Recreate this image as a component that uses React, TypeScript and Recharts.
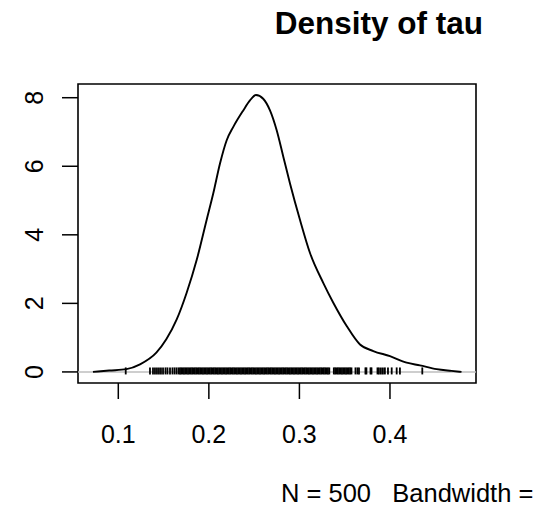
import {
  ComposedChart,
  Line,
  ReferenceArea,
  ReferenceLine,
  Scatter,
  XAxis,
  YAxis,
} from 'recharts';

// Density estimate (x = tau, y = density)
const tauGrid = [
  0.072, 0.09, 0.109, 0.124, 0.142, 0.153, 0.1645, 0.1755, 0.1866, 0.1976, 0.2049, 0.2123,
  0.2197, 0.227, 0.238, 0.2454, 0.252, 0.26, 0.2675, 0.2749, 0.2822, 0.2896, 0.3006, 0.3117,
  0.3263, 0.3374, 0.3522, 0.3669, 0.3816, 0.4, 0.4184, 0.4331, 0.4516, 0.468, 0.479,
];
const densityValues = [
  0, 0.04, 0.08, 0.22, 0.56, 0.95, 1.53, 2.31, 3.27, 4.44, 5.21, 6.08, 6.76, 7.15, 7.63, 7.92,
  8.08, 7.97, 7.63, 7.05, 6.28, 5.5, 4.44, 3.47, 2.6, 2.02, 1.34, 0.8, 0.61, 0.46, 0.27, 0.19,
  0.08, 0.03, 0,
];

// Rug marks (sample values of tau)
const rugValues = [
  0.1082, 0.135, 0.1383, 0.1405, 0.1427, 0.1449, 0.1471, 0.1494, 0.1521, 0.1543, 0.1571,
  0.1598, 0.1621, 0.1643, 0.1665, 0.1681,
  0.1695, 0.171, 0.1725, 0.174, 0.1755, 0.177, 0.1785, 0.18, 0.1815, 0.183, 0.1845, 0.186,
  0.1875, 0.189, 0.1905, 0.192, 0.1935, 0.195, 0.1965, 0.198, 0.1995, 0.201, 0.2025, 0.204,
  0.2055, 0.207, 0.2085, 0.21, 0.2115, 0.213, 0.2145, 0.216, 0.2175, 0.219, 0.2205, 0.222,
  0.2235, 0.225, 0.2265, 0.228, 0.2295, 0.231, 0.2325, 0.234, 0.2355, 0.237, 0.2385, 0.24,
  0.2415, 0.243, 0.2445, 0.246, 0.2475, 0.249, 0.2505, 0.252, 0.2535, 0.255, 0.2565, 0.258,
  0.2595, 0.261, 0.2625, 0.264, 0.2655, 0.267, 0.2685, 0.27, 0.2715, 0.273, 0.2745, 0.276,
  0.2775, 0.279, 0.2805, 0.282, 0.2835, 0.285, 0.2865, 0.288, 0.2895, 0.291, 0.2925, 0.294,
  0.2955, 0.297, 0.2985, 0.3, 0.3015, 0.303, 0.3045, 0.306, 0.3075, 0.309, 0.3105, 0.312,
  0.3135, 0.315, 0.3165, 0.318, 0.3195, 0.321, 0.3225, 0.324, 0.3255, 0.327, 0.3285, 0.33,
  0.3315, 0.333,
  0.338, 0.3395, 0.341, 0.3425, 0.344, 0.3455, 0.347, 0.3485, 0.35, 0.3515, 0.353, 0.3545,
  0.356, 0.3575, 0.3619, 0.3641, 0.3658, 0.3729, 0.374, 0.3785, 0.3796, 0.3862, 0.3878,
  0.39, 0.3922, 0.3944, 0.3978, 0.4019, 0.4074, 0.411, 0.4357,
];

const xTicks = [0.1, 0.2, 0.3, 0.4];
const yTicks = [0, 2, 4, 6, 8];
const X_DOMAIN: [number, number] = [0.0555, 0.495];
const Y_DOMAIN: [number, number] = [-0.323, 8.4];

const title = 'Density of tau';
const subtitle = 'N = 500   Bandwidth =';

const FONT = '"Liberation Sans", Arial, Helvetica, sans-serif';

const densityData = tauGrid.map((x, i) => ({ x, d: densityValues[i] }));
const rugData = rugValues.map((x) => ({ x, r: 0 }));

function XTick({ x, y, payload }: any) {
  return (
    <text x={x} y={y} dy="0.72em" textAnchor="middle" fontSize={25} fontFamily={FONT} fill="#000">
      {String(payload.value)}
    </text>
  );
}

function YTick({ x, y, payload }: any) {
  return (
    <text
      x={x}
      y={y}
      transform={`rotate(-90 ${x} ${y})`}
      textAnchor="middle"
      fontSize={25}
      fontFamily={FONT}
      fill="#000"
    >
      {String(payload.value)}
    </text>
  );
}

function RugMark({ cx, cy }: any) {
  return <line x1={cx} x2={cx} y1={cy - 4.5} y2={cy + 2.5} stroke="#000" strokeWidth={1.8} />;
}

export default function App() {
  return (
    <div style={{ position: 'absolute', left: 0, top: 0, width: 537, height: 508, background: '#fff' }}>
      <ComposedChart
        width={537}
        height={508}
        margin={{ top: 84, right: 61, bottom: 95, left: 18 }}
      >
        <XAxis
          type="number"
          dataKey="x"
          domain={X_DOMAIN}
          ticks={xTicks}
          allowDataOverflow
          height={30}
          axisLine={false}
          tickSize={16}
          tickMargin={26}
          tickLine={{ stroke: '#000', strokeWidth: 1.5 }}
          tick={<XTick />}
        />
        <YAxis
          type="number"
          domain={Y_DOMAIN}
          ticks={yTicks}
          allowDataOverflow
          width={60}
          axisLine={false}
          tickSize={16}
          tickMargin={19}
          tickLine={{ stroke: '#000', strokeWidth: 1.5 }}
          tick={<YTick />}
        />
        <ReferenceArea
          x1={X_DOMAIN[0]}
          x2={X_DOMAIN[1]}
          y1={Y_DOMAIN[0]}
          y2={Y_DOMAIN[1]}
          fill="none"
          fillOpacity={0}
          stroke="#000"
          strokeWidth={1.6}
        />
        <ReferenceLine y={0} stroke="#bebebe" strokeWidth={1.5} />
        <Line
          data={densityData}
          dataKey="d"
          type="monotone"
          stroke="#000"
          strokeWidth={1.9}
          dot={false}
          activeDot={false}
          isAnimationActive={false}
        />
        <Scatter data={rugData} dataKey="r" shape={<RugMark />} isAnimationActive={false} />
      </ComposedChart>
      <svg
        width={537}
        height={508}
        style={{ position: 'absolute', left: 0, top: 0, pointerEvents: 'none' }}
      >
        <text x={483} y={34} textAnchor="end" fontSize={31.5} fontWeight="bold" fontFamily={FONT}>
          {title}
        </text>
        <text x={281} y={502} fontSize={25.5} fontFamily={FONT} style={{ whiteSpace: 'pre' }}>
          {subtitle}
        </text>
      </svg>
    </div>
  );
}
